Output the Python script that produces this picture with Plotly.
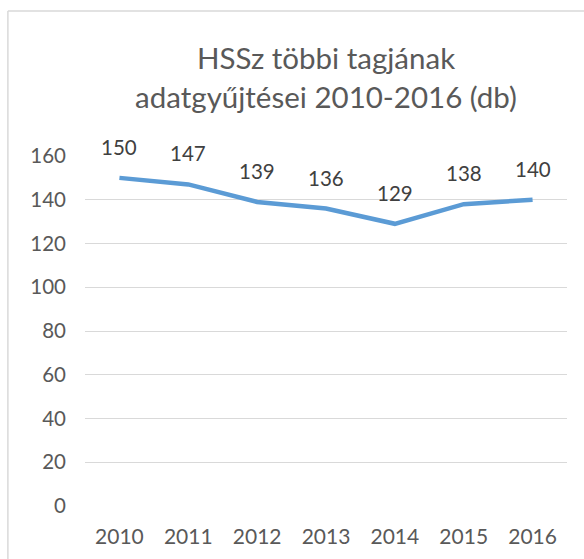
import plotly.graph_objects as go

years = ["2010", "2011", "2012", "2013", "2014", "2015", "2016"]
values = [150, 147, 139, 136, 129, 138, 140]
y_ticks = [0, 20, 40, 60, 80, 100, 120, 140, 160]
title_text = "HSSz többi tagjának<br>adatgyűjtései 2010-2016 (db)"

FONT = "Lato, Open Sans, sans-serif"

fig = go.Figure()
fig.add_trace(go.Scatter(
    x=years, y=values, mode="lines",
    line=dict(color="#5B9BD5", width=4.5),
    hoverinfo="skip", showlegend=False,
))

for i, v in enumerate(values):
    fig.add_annotation(x=i, y=v, text=str(v), showarrow=False,
                       xref="x", yref="y",
                       yanchor="middle", yshift=31,
                       font=dict(family=FONT, size=20.5, color="#404040"))

# chart border (top and left visible)
fig.add_shape(type="line", xref="paper", yref="paper",
              x0=-0.16, x1=1.2, y0=1.414, y1=1.414,
              line=dict(color="#D9D9D9", width=1.5), layer="below")
fig.add_shape(type="line", xref="paper", yref="paper",
              x0=-0.16, x1=-0.16, y0=-0.3, y1=1.414,
              line=dict(color="#D9D9D9", width=1.5), layer="below")

fig.update_layout(
    width=584, height=559,
    margin=dict(l=85, r=17, t=156, b=53),
    paper_bgcolor="white", plot_bgcolor="white",
    title=dict(text=title_text, x=0.5, xanchor="center", xref="paper",
               y=0.876, yanchor="middle",
               font=dict(family=FONT, size=29.5, color="#595959")),
    font=dict(family=FONT, size=20.5, color="#595959"),
    xaxis=dict(type="category", range=[-0.5, 6.5], showgrid=False,
               showline=False, zeroline=False, ticks="",
               ticklabelstandoff=16,
               tickfont=dict(family=FONT, size=21, color="#595959")),
    yaxis=dict(range=[0, 160], tickvals=y_ticks, showgrid=True,
               gridcolor="#D9D9D9", gridwidth=1.3, zeroline=False,
               showline=False, ticks="", ticklabelstandoff=18,
               tickfont=dict(family=FONT, size=20.5, color="#595959")),
)

fig.write_html("out.html", config={"displayModeBar": False},
               post_script="document.body.style.margin='0';")
